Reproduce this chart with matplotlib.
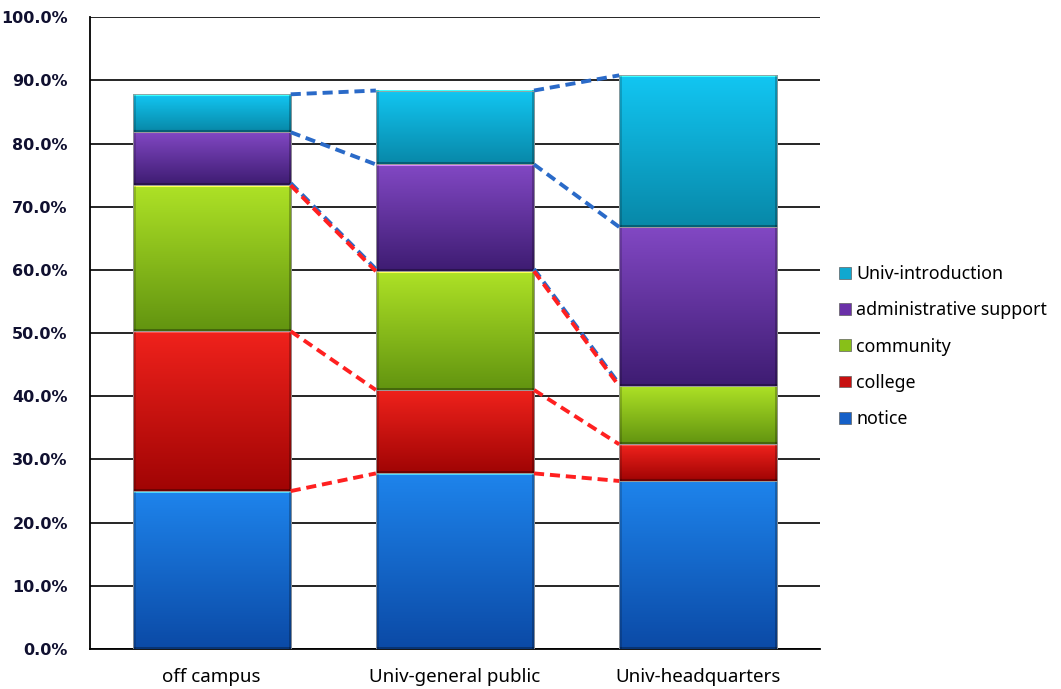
import numpy as np
import matplotlib
matplotlib.use('Agg')
from matplotlib import pyplot as plt
from matplotlib.colors import to_rgb
from matplotlib.patches import Patch

categories = ['off campus', 'Univ-general public', 'Univ-headquarters']
series_names = ['notice', 'college', 'community', 'administrative support', 'Univ-introduction']
notice = [25.0, 27.8, 26.6]
college = [25.3, 13.2, 5.8]
community = [23.1, 18.8, 9.2]
admin_support = [8.4, 16.9, 25.2]
univ_intro = [6.0, 11.7, 24.0]

# (top colour, bottom colour) for the shaded segments
shades = [('#1e84ec', '#0b4aa6'),
          ('#f0221c', '#a00404'),
          ('#aee226', '#629410'),
          ('#8248c4', '#3e1c72'),
          ('#12c6f2', '#0888a8')]
legend_colors = ['#1560c8', '#c81010', '#88c018', '#6a30a8', '#10a8d0']
line_colors = ['#ff2020', '#ff2020', '#ff2020', '#2a6ac8', '#2a6ac8']

fig = plt.figure(figsize=(10.61, 6.89), dpi=100)
ax = fig.add_axes([0.0848, 0.058, 0.688, 0.917])
ax.set_xlim(-0.5, 2.5)
ax.set_ylim(0, 100)

values = [notice, college, community, admin_support, univ_intro]
x = np.arange(len(categories))
width = 0.65
px_per_unit = 6.32


def shaded(top, bottom, h, w=160):
    n = max(int(h * px_per_unit), 4)
    t = np.linspace(0, 1, n)[:, None, None]
    c0 = np.array(to_rgb(top))
    c1 = np.array(to_rgb(bottom))
    img = (c0 * (1 - t) + c1 * t) * np.ones((1, w, 1))
    # bevel: light top edge, dark bottom and side edges
    img[:2] = np.clip(c0 * 1.35 + 0.15, 0, 1)
    img[-2:] *= 0.7
    img[:, :3] *= 0.82
    img[:, -3:] *= 0.75
    return np.clip(img, 0, 1)


bottoms = np.zeros(len(categories))
tops = []
for vals, (c_top, c_bot) in zip(values, shades):
    bars = ax.bar(x, vals, width, bottom=bottoms, facecolor='none',
                  edgecolor='#9a9a9a', linewidth=0.6, zorder=4)
    for b in bars:
        x0, y0 = b.get_x(), b.get_y()
        ax.imshow(shaded(c_top, c_bot, b.get_height()), aspect='auto',
                  extent=(x0, x0 + b.get_width(), y0, y0 + b.get_height()),
                  interpolation='bilinear', zorder=3)
    bottoms = bottoms + np.array(vals)
    tops.append(bottoms.copy())

# dashed series lines between neighbouring bars
for k, top in enumerate(tops):
    for i in range(len(categories) - 1):
        xs = [x[i] + width / 2, x[i + 1] - width / 2]
        ys = [top[i], top[i + 1]]
        if k == 2:
            ax.plot(xs, [v + 0.35 for v in ys], color='#2a6ac8', lw=2.8,
                    dashes=(2.6, 1.5), zorder=5)
        ax.plot(xs, ys, color=line_colors[k], lw=2.8, dashes=(2.6, 1.5), zorder=5)

ax.set_yticks(np.arange(0, 101, 10))
ax.set_yticklabels(['%.1f%%' % v for v in np.arange(0, 101, 10)],
                   fontsize=11.5, fontweight='bold', color='#101030')
ax.set_xticks(x)
ax.set_xticklabels(categories, fontsize=13.5, family='Noto Sans')
ax.tick_params(axis='y', length=0, pad=16)
ax.tick_params(axis='x', length=0, pad=14)
ax.grid(axis='y', color='black', linewidth=1.2, zorder=0)
ax.set_axisbelow(True)
for s in ['top', 'right']:
    ax.spines[s].set_visible(False)
ax.spines['left'].set_linewidth(1.3)
ax.spines['bottom'].set_linewidth(1.3)

handles = [Patch(facecolor=c, edgecolor='#606060', linewidth=0.5) for c in legend_colors]
leg = fig.legend(handles[::-1], series_names[::-1], loc='center left',
                 bbox_to_anchor=(0.776, 0.497), frameon=False,
                 prop={'family': 'Noto Sans', 'size': 12.8},
                 handlelength=0.65, handleheight=0.65, handletextpad=0.3,
                 labelspacing=1.02)

fig.savefig('out.png', dpi=100)
